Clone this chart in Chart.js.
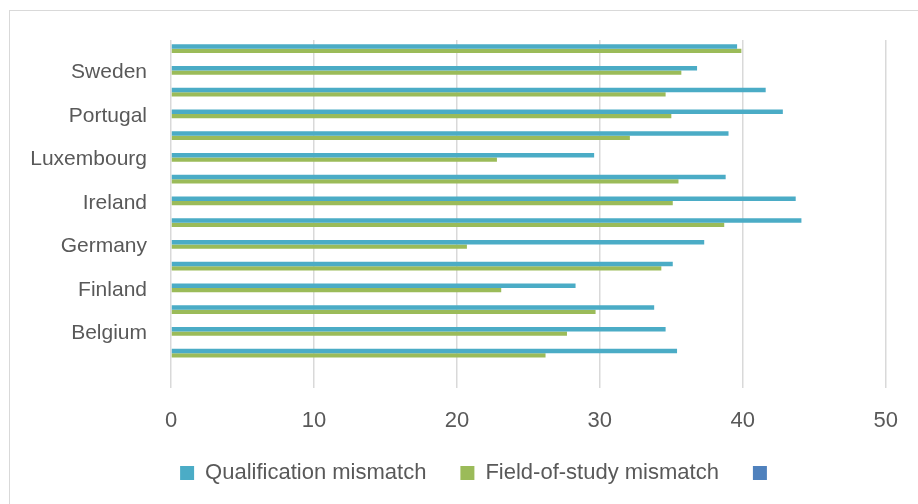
<!DOCTYPE html>
<html>
<head>
<meta charset="utf-8">
<title>Qualification and field-of-study mismatch</title>
<script src="https://cdn.jsdelivr.net/npm/chart.js@4/dist/chart.umd.min.js"></script>
<style>
  html, body { margin: 0; padding: 0; background: #ffffff; overflow: hidden; }
  .wrap { position: relative; width: 918px; height: 504px; overflow: hidden; }
  .frame { position: absolute; left: 9px; top: 10px; width: 1000px; height: 1000px;
           border: 1.5px solid #d9d9d9; box-sizing: border-box; }
  canvas { position: absolute; left: 0; top: 0; }
</style>
</head>
<body>
<div class="wrap">
  <div class="frame"></div>
  <canvas id="mismatchChart" width="918" height="504"></canvas>
</div>
<script>
// countries from bottom to top, first row left blank
const countries = ['', 'Austria', 'Belgium', 'Denmark', 'Finland', 'France', 'Germany', 'Greece',
    'Ireland', 'Italy', 'Luxembourg', 'Netherlands', 'Portugal', 'Spain', 'Sweden', 'United Kingdom'];
const qualificationMismatch = [null, 35.4, 34.6, 33.8, 28.3, 35.1, 37.3, 44.1,
    43.7, 38.8, 29.6, 39.0, 42.8, 41.6, 36.8, 39.6];
const fieldOfStudyMismatch = [null, 26.2, 27.7, 29.7, 23.1, 34.3, 20.7, 38.7,
    35.1, 35.5, 22.8, 32.1, 35.0, 34.6, 35.7, 39.9];
const xTicks = [0, 10, 20, 30, 40, 50];

const textColor = '#595959';
const gridColor = '#d9d9d9';
const fontFamily = '"Liberation Sans", Arial, sans-serif';

// legend sits a little right of the canvas centre
const legendShift = {
    id: 'legendShift',
    afterLayout(chart) {
        if (!chart.legend) return;
        chart.legend.left += 23;
        chart.legend.right += 23;
    }
};

document.addEventListener('DOMContentLoaded', () => {
    const ctx = document.getElementById('mismatchChart');

    new Chart(ctx, {
        type: 'bar',
        data: {
            labels: countries,
            datasets: [
                {
                    label: 'Qualification mismatch',
                    data: qualificationMismatch,
                    backgroundColor: '#4BACC6',
                    borderWidth: 0
                },
                {
                    label: 'Field-of-study mismatch',
                    data: fieldOfStudyMismatch,
                    backgroundColor: '#9BBB59',
                    borderWidth: 0
                },
                {
                    // third series has no values, only its legend key shows
                    label: '',
                    data: [],
                    backgroundColor: '#4F81BD',
                    borderWidth: 0
                }
            ]
        },
        options: {
            indexAxis: 'y',
            responsive: false,
            animation: false,
            devicePixelRatio: 1,
            datasets: {
                bar: { categoryPercentage: 0.62, barPercentage: 1 }
            },
            layout: {
                padding: { left: 25, right: 31, top: 40, bottom: 10 }
            },
            scales: {
                x: {
                    min: xTicks[0],
                    max: xTicks[xTicks.length - 1],
                    afterBuildTicks: (scale) => {
                        scale.ticks = xTicks.map(v => ({ value: v }));
                    },
                    afterFit: (scale) => { scale.height = 40; },
                    grid: { color: gridColor, lineWidth: 1.5, drawTicks: false },
                    border: { display: false },
                    ticks: {
                        color: textColor,
                        padding: 20,
                        font: { family: fontFamily, size: 22 }
                    }
                },
                y: {
                    reverse: true,
                    afterFit: (scale) => { scale.width = 146; },
                    grid: { display: false },
                    border: { display: false },
                    ticks: {
                        autoSkip: false,
                        color: textColor,
                        padding: 16,
                        font: { family: fontFamily, size: 21 },
                        // every other country is labelled
                        callback: function (value, index) {
                            return index % 2 === 0 ? this.getLabelForValue(value) : '';
                        }
                    }
                }
            },
            plugins: {
                tooltip: { enabled: false },
                legend: {
                    position: 'bottom',
                    labels: {
                        boxWidth: 14,
                        boxHeight: 14,
                        padding: 34,
                        color: textColor,
                        font: { family: fontFamily, size: 22 }
                    }
                }
            }
        },
        plugins: [legendShift]
    });
});
</script>
</body>
</html>
